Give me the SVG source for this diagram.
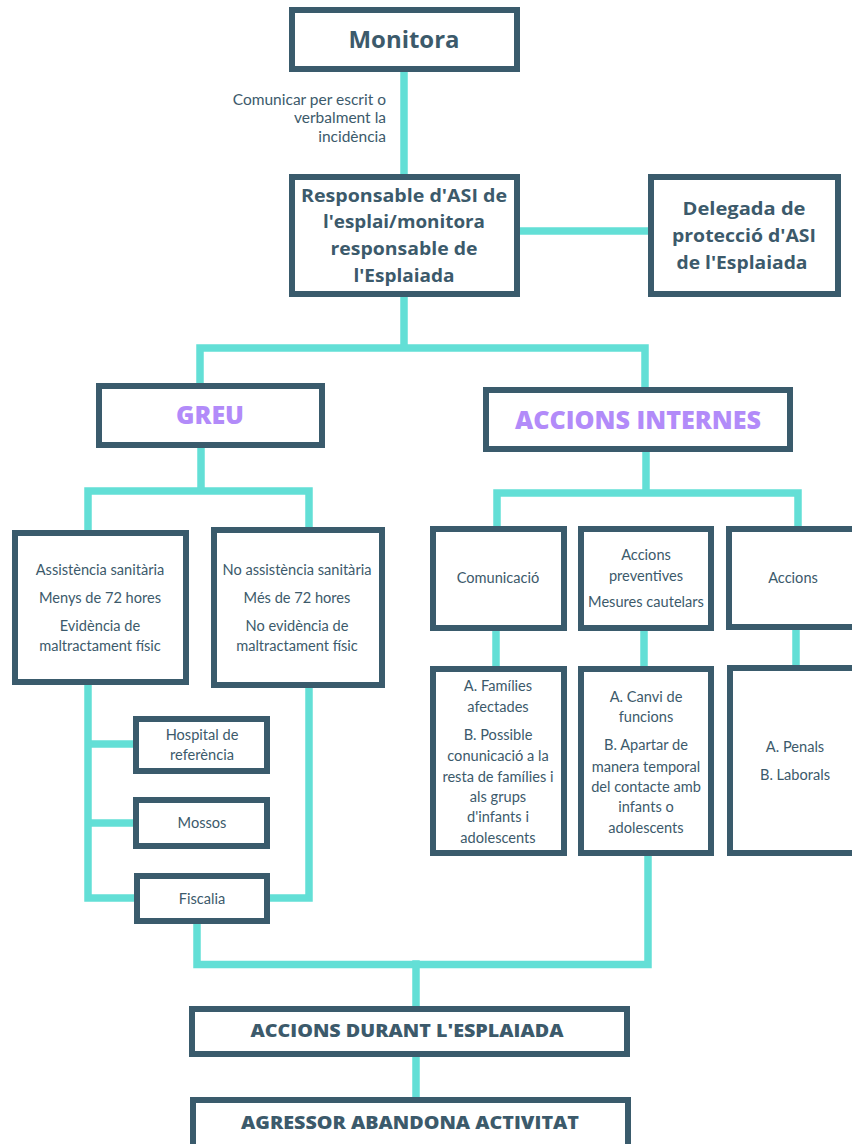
<svg xmlns="http://www.w3.org/2000/svg" width="852" height="1144" viewBox="0 0 852 1144">
<style>
.box{fill:#ffffff;stroke:#3a5b6c;stroke-width:6}
.con{fill:none;stroke:#63dfd6;stroke-width:7.5;stroke-linecap:square;stroke-linejoin:miter}
text{font-family:Lato,"Noto Sans","Liberation Sans",sans-serif;fill:#3c5a6b;text-anchor:middle}
.t{font-size:14.6px}
.lbl{font-size:15.5px;text-anchor:end}
.h{font-family:"Open Sans",Lato,"Liberation Sans",sans-serif;font-size:17.5px;font-weight:700}
.big{font-family:"Open Sans",Lato,"Liberation Sans",sans-serif;font-size:23px;font-weight:700}
.cap{font-family:"Open Sans",Lato,"Liberation Sans",sans-serif;font-weight:800}
.pur{fill:#b28bf9;font-size:24px}
.low{font-size:17.5px}
</style>
<rect width="852" height="1144" fill="#ffffff"/>
<g id="connectors">
<path class="con" d="M404 72V174"/>
<path class="con" d="M520 231H648"/>
<path class="con" d="M404 297V348M200 383V348H645V387"/>
<path class="con" d="M201 448V491M88 530V491H309V527"/>
<path class="con" d="M646 452V493M497 526V493H798V526"/>
<path class="con" d="M496 631V666M644 631V666M796 630V665"/>
<path class="con" d="M88 685V898H134M88 744H133M88 823H133"/>
<path class="con" d="M309 688V898H270"/>
<path class="con" d="M197 924V964.5H648V856"/>
<path class="con" d="M416 964V1006M416 1057V1097"/>
</g>
<g id="label-comunicar">
<text class="lbl" x="386" y="105">Comunicar per escrit o</text>
<text class="lbl" x="386" y="123">verbalment la</text>
<text class="lbl" x="386" y="142">incidència</text>
</g>
<g id="monitora">
<rect class="box" x="292" y="10" width="225" height="59"/>
<text class="big" x="404" y="48" textLength="111" lengthAdjust="spacingAndGlyphs">Monitora</text>
</g>
<g id="responsable">
<rect class="box" x="292" y="177" width="225" height="117"/>
<text class="h" x="404" y="202" textLength="206" lengthAdjust="spacingAndGlyphs">Responsable d'ASI de</text>
<text class="h" x="404" y="228" textLength="162" lengthAdjust="spacingAndGlyphs">l'esplai/monitora</text>
<text class="h" x="404" y="255" textLength="147" lengthAdjust="spacingAndGlyphs">responsable de</text>
<text class="h" x="404" y="282" textLength="101" lengthAdjust="spacingAndGlyphs">l'Esplaiada</text>
</g>
<g id="delegada">
<rect class="box" x="651" y="177" width="187" height="117"/>
<text class="h" x="744" y="215" textLength="123" lengthAdjust="spacingAndGlyphs">Delegada de</text>
<text class="h" x="744" y="242" textLength="144" lengthAdjust="spacingAndGlyphs">protecció d'ASI</text>
<text class="h" x="742" y="269" textLength="131" lengthAdjust="spacingAndGlyphs">de l'Esplaiada</text>
</g>
<g id="greu">
<rect class="box" x="99" y="386" width="223" height="59"/>
<text class="cap pur" x="210" y="424" textLength="68" lengthAdjust="spacingAndGlyphs">GREU</text>
</g>
<g id="accions-internes">
<rect class="box" x="486" y="390" width="304" height="59"/>
<text class="cap pur" x="638" y="429" textLength="246" lengthAdjust="spacingAndGlyphs">ACCIONS INTERNES</text>
</g>
<g id="assistencia">
<rect class="box" x="15" y="533" width="171" height="149"/>
<text class="t" x="100" y="575">Assistència sanitària</text>
<text class="t" x="100" y="603">Menys de 72 hores</text>
<text class="t" x="100" y="631">Evidència de</text>
<text class="t" x="100" y="651">maltractament físic</text>
</g>
<g id="no-assistencia">
<rect class="box" x="214" y="530" width="168" height="155"/>
<text class="t" x="297" y="575">No assistència sanitària</text>
<text class="t" x="297" y="603">Més de 72 hores</text>
<text class="t" x="297" y="631">No evidència de</text>
<text class="t" x="297" y="651">maltractament físic</text>
</g>
<g id="hospital">
<rect class="box" x="136" y="719" width="131" height="52"/>
<text class="t" x="202" y="740">Hospital de</text>
<text class="t" x="202" y="760">referència</text>
</g>
<g id="mossos">
<rect class="box" x="136" y="800" width="131" height="46"/>
<text class="t" x="202" y="828">Mossos</text>
</g>
<g id="fiscalia">
<rect class="box" x="137" y="876" width="130" height="45"/>
<text class="t" x="202" y="904">Fiscalia</text>
</g>
<g id="comunicacio">
<rect class="box" x="433" y="529" width="131" height="99"/>
<text class="t" x="498" y="583">Comunicació</text>
</g>
<g id="accions-preventives">
<rect class="box" x="581" y="529" width="130" height="99"/>
<text class="t" x="646" y="560">Accions</text>
<text class="t" x="646" y="581">preventives</text>
<text class="t" x="646" y="607">Mesures cautelars</text>
</g>
<g id="accions">
<rect class="box" x="729" y="529" width="130" height="98"/>
<text class="t" x="793" y="583">Accions</text>
</g>
<g id="families">
<rect class="box" x="433" y="669" width="131" height="184"/>
<text class="t" x="498" y="691">A. Famílies</text>
<text class="t" x="498" y="712">afectades</text>
<text class="t" x="498" y="740">B. Possible</text>
<text class="t" x="498" y="761">conunicació a la</text>
<text class="t" x="498" y="782">resta de famílies i</text>
<text class="t" x="498" y="802">als grups</text>
<text class="t" x="498" y="822">d'infants i</text>
<text class="t" x="498" y="843">adolescents</text>
</g>
<g id="canvi">
<rect class="box" x="581" y="669" width="130" height="184"/>
<text class="t" x="646" y="702">A. Canvi de</text>
<text class="t" x="646" y="722">funcions</text>
<text class="t" x="646" y="750">B. Apartar de</text>
<text class="t" x="646" y="772">manera temporal</text>
<text class="t" x="646" y="792">del contacte amb</text>
<text class="t" x="646" y="812">infants o</text>
<text class="t" x="646" y="833">adolescents</text>
</g>
<g id="penals">
<rect class="box" x="730" y="668" width="130" height="185"/>
<text class="t" x="795" y="752">A. Penals</text>
<text class="t" x="795" y="780">B. Laborals</text>
</g>
<g id="accions-durant">
<rect class="box" x="192" y="1009" width="435" height="45"/>
<text class="cap low" x="407" y="1037" textLength="313" lengthAdjust="spacingAndGlyphs">ACCIONS DURANT L'ESPLAIADA</text>
</g>
<g id="agressor">
<rect class="box" x="193" y="1100" width="435" height="50"/>
<text class="cap low" x="410" y="1129" textLength="338" lengthAdjust="spacingAndGlyphs">AGRESSOR ABANDONA ACTIVITAT</text>
</g>
</svg>
